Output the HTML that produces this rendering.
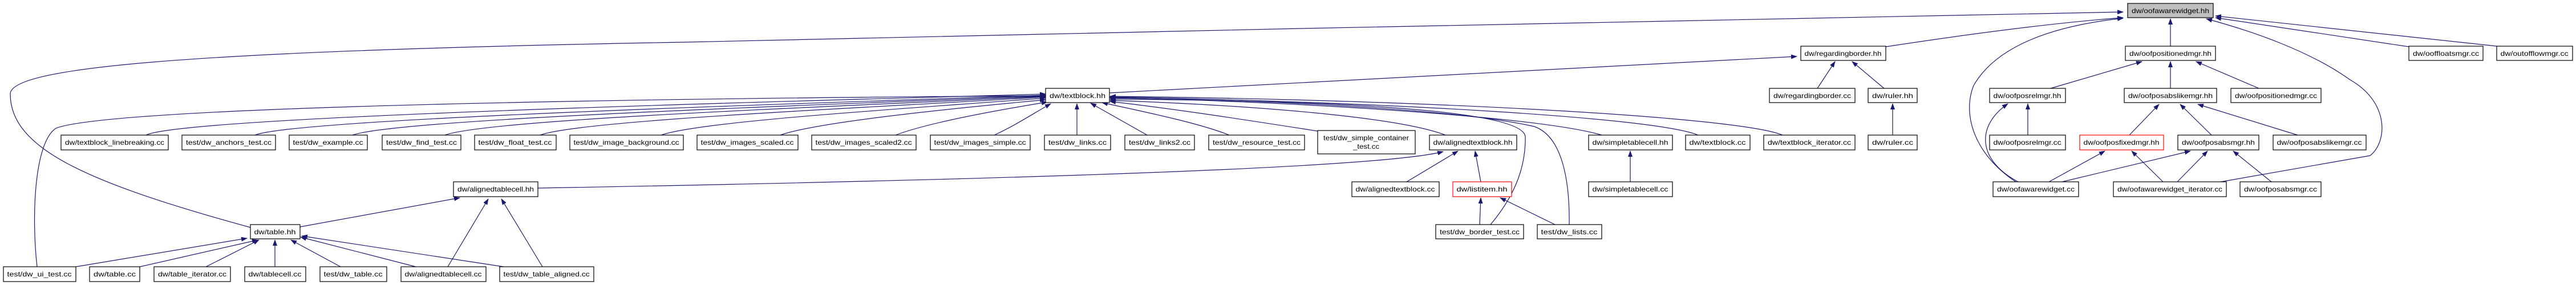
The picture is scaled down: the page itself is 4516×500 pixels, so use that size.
<!DOCTYPE html>
<html><head><meta charset="utf-8"><style>
html,body{margin:0;padding:0;background:#fff;}
svg{display:block;}
text{font-family:"Liberation Sans",sans-serif;font-size:12px;fill:#000;}
.n{fill:#fff;stroke:#000;stroke-width:1.2;}
.e{fill:none;stroke:#191970;stroke-width:1.2;}
</style></head><body>
<svg width="4516" height="500" viewBox="0 0 4516 500" xmlns="http://www.w3.org/2000/svg">
<defs><marker id="a" markerUnits="userSpaceOnUse" markerWidth="11" markerHeight="8" refX="10" refY="4" orient="auto"><path d="M0,0 L11,4 L0,8 z" fill="#191970"/></marker></defs>
<g class="e" marker-end="url(#a)">
<path d="M439 399 C150 320,18 260,18 165 C18 120,300 90,1200 74 C2000 55,3000 35,3722 21"/>
<path d="M3306 82 C3450 60,3600 40,3722 31"/>
<path d="M1945 163 L3150 99"/>
<path d="M943 330 C1500 320,2400 300,2530 266"/>
<path d="M256 237 C320 205,1300 180,1833 165"/>
<path d="M447 237 C520 208,1400 182,1833 167"/>
<path d="M618 237 C700 208,1450 184,1833 168"/>
<path d="M780 237 C860 208,1500 186,1833 169"/>
<path d="M947 237 C1020 210,1550 188,1833 170"/>
<path d="M1159 237 C1230 212,1600 190,1833 172"/>
<path d="M1368 237 C1430 215,1650 192,1833 175"/>
<path d="M1570 237 C1620 218,1720 198,1836 179"/>
<path d="M1743 237 C1780 220,1810 200,1842 182"/>
<path d="M1888 237 L1888 182"/>
<path d="M2011 237 L1912 181"/>
<path d="M2155 237 C2100 215,2000 195,1932 180"/>
<path d="M2310 230 C2150 205,2050 190,1946 178"/>
<path d="M2534 237 C2450 205,2200 185,1946 176"/>
<path d="M2808 237 C2700 205,2300 180,1946 171"/>
<path d="M2977 237 C2900 205,2400 178,1946 170"/>
<path d="M3125 237 C3050 205,2500 175,1946 169"/>
<path d="M2613 394 C2650 350,2675 300,2674 240 C2672 190,2300 176,1946 174"/>
<path d="M2751 394 C2752 320,2740 240,2690 222 C2550 190,2200 175,1946 172"/>
<path d="M65 468 C55 380,60 250,98 225 C200 185,1200 172,1833 168"/>
<path d="M526 398 L806 347"/>
<path d="M785 468 L856 349"/>
<path d="M951 468 L879 349"/>
<path d="M133 468 L433 418"/>
<path d="M245 468 L452 421"/>
<path d="M361 468 L454 421"/>
<path d="M482 468 L482 421"/>
<path d="M597 468 L510 421"/>
<path d="M729 468 L527 416"/>
<path d="M883 468 L529 414"/>
<path d="M2466 319 L2556 265"/>
<path d="M2596 319 L2586 265"/>
<path d="M2594 394 L2596 347"/>
<path d="M2726 394 L2630 347"/>
<path d="M2858 319 L2858 265"/>
<path d="M3186 155 L3217 108"/>
<path d="M3303 155 L3247 108"/>
<path d="M3318 237 L3318 182"/>
<path d="M3805 81 L3805 33"/>
<path d="M4223 82 L3884 31"/>
<path d="M4377 81 L3884 28"/>
<path d="M3534 319 C3460 270,3440 200,3460 150 C3500 80,3600 45,3722 32"/>
<path d="M3893 319 L4155 273 C4185 250,4190 180,4120 140 C4050 90,3950 55,3868 33"/>
<path d="M3595 155 L3755 108"/>
<path d="M3805 155 L3805 108"/>
<path d="M3960 155 L3850 108"/>
<path d="M3555 237 L3555 182"/>
<path d="M3538 319 C3465 280,3465 220,3520 182"/>
<path d="M3733 237 L3785 183"/>
<path d="M3877 237 L3822 183"/>
<path d="M4028 237 L3853 183"/>
<path d="M3592 319 L3690 265"/>
<path d="M3792 319 L3737 265"/>
<path d="M3615 319 L3840 265"/>
<path d="M3817 319 L3870 265"/>
<path d="M3982 319 L3915 265"/>
</g>
<g>
<rect class="n" x="3730" y="6" width="150" height="25" style="fill:#bfbfbf"/><text x="3805" y="23" text-anchor="middle" textLength="136" lengthAdjust="spacingAndGlyphs">dw/oofawarewidget.hh</text>
<rect class="n" x="3157" y="81" width="149" height="25"/><text x="3231" y="98" text-anchor="middle" textLength="135" lengthAdjust="spacingAndGlyphs">dw/regardingborder.hh</text>
<rect class="n" x="3726" y="81" width="158" height="25"/><text x="3805" y="98" text-anchor="middle" textLength="144" lengthAdjust="spacingAndGlyphs">dw/oofpositionedmgr.hh</text>
<rect class="n" x="4223" y="81" width="130" height="25"/><text x="4288" y="98" text-anchor="middle" textLength="116" lengthAdjust="spacingAndGlyphs">dw/ooffloatsmgr.cc</text>
<rect class="n" x="4377" y="81" width="133" height="25"/><text x="4443" y="98" text-anchor="middle" textLength="119" lengthAdjust="spacingAndGlyphs">dw/outofflowmgr.cc</text>
<rect class="n" x="1833" y="155" width="112" height="25"/><text x="1889" y="172" text-anchor="middle" textLength="98" lengthAdjust="spacingAndGlyphs">dw/textblock.hh</text>
<rect class="n" x="3102" y="155" width="150" height="25"/><text x="3177" y="172" text-anchor="middle" textLength="136" lengthAdjust="spacingAndGlyphs">dw/regardingborder.cc</text>
<rect class="n" x="3275" y="155" width="86" height="25"/><text x="3318" y="172" text-anchor="middle" textLength="72" lengthAdjust="spacingAndGlyphs">dw/ruler.hh</text>
<rect class="n" x="3488" y="155" width="133" height="25"/><text x="3554" y="172" text-anchor="middle" textLength="119" lengthAdjust="spacingAndGlyphs">dw/oofposrelmgr.hh</text>
<rect class="n" x="3724" y="155" width="162" height="25"/><text x="3805" y="172" text-anchor="middle" textLength="148" lengthAdjust="spacingAndGlyphs">dw/oofposabslikemgr.hh</text>
<rect class="n" x="3911" y="155" width="158" height="25"/><text x="3990" y="172" text-anchor="middle" textLength="144" lengthAdjust="spacingAndGlyphs">dw/oofpositionedmgr.cc</text>

<rect class="n" x="107" y="237" width="188" height="26"/><text x="201" y="254" text-anchor="middle" textLength="174" lengthAdjust="spacingAndGlyphs">dw/textblock_linebreaking.cc</text>
<rect class="n" x="319" y="237" width="164" height="26"/><text x="401" y="254" text-anchor="middle" textLength="150" lengthAdjust="spacingAndGlyphs">test/dw_anchors_test.cc</text>
<rect class="n" x="507" y="237" width="137" height="26"/><text x="575" y="254" text-anchor="middle" textLength="123" lengthAdjust="spacingAndGlyphs">test/dw_example.cc</text>
<rect class="n" x="670" y="237" width="138" height="26"/><text x="739" y="254" text-anchor="middle" textLength="124" lengthAdjust="spacingAndGlyphs">test/dw_find_test.cc</text>
<rect class="n" x="832" y="237" width="143" height="26"/><text x="903" y="254" text-anchor="middle" textLength="129" lengthAdjust="spacingAndGlyphs">test/dw_float_test.cc</text>
<rect class="n" x="999" y="237" width="199" height="26"/><text x="1098" y="254" text-anchor="middle" textLength="185" lengthAdjust="spacingAndGlyphs">test/dw_image_background.cc</text>
<rect class="n" x="1222" y="237" width="177" height="26"/><text x="1310" y="254" text-anchor="middle" textLength="163" lengthAdjust="spacingAndGlyphs">test/dw_images_scaled.cc</text>
<rect class="n" x="1423" y="237" width="183" height="26"/><text x="1514" y="254" text-anchor="middle" textLength="169" lengthAdjust="spacingAndGlyphs">test/dw_images_scaled2.cc</text>
<rect class="n" x="1631" y="237" width="175" height="26"/><text x="1718" y="254" text-anchor="middle" textLength="161" lengthAdjust="spacingAndGlyphs">test/dw_images_simple.cc</text>
<rect class="n" x="1831" y="237" width="116" height="26"/><text x="1889" y="254" text-anchor="middle" textLength="102" lengthAdjust="spacingAndGlyphs">test/dw_links.cc</text>
<rect class="n" x="1972" y="237" width="122" height="26"/><text x="2033" y="254" text-anchor="middle" textLength="108" lengthAdjust="spacingAndGlyphs">test/dw_links2.cc</text>
<rect class="n" x="2119" y="237" width="168" height="26"/><text x="2203" y="254" text-anchor="middle" textLength="154" lengthAdjust="spacingAndGlyphs">test/dw_resource_test.cc</text>
<rect class="n" x="2310" y="229" width="171" height="41"/><text x="2395" y="246" text-anchor="middle" textLength="150" lengthAdjust="spacingAndGlyphs">test/dw_simple_container</text><text x="2395" y="261" text-anchor="middle" textLength="46" lengthAdjust="spacingAndGlyphs">_test.cc</text>
<rect class="n" x="2506" y="237" width="153" height="26"/><text x="2582" y="254" text-anchor="middle" textLength="139" lengthAdjust="spacingAndGlyphs">dw/alignedtextblock.hh</text>
<rect class="n" x="2785" y="237" width="147" height="26"/><text x="2858" y="254" text-anchor="middle" textLength="133" lengthAdjust="spacingAndGlyphs">dw/simpletablecell.hh</text>
<rect class="n" x="2955" y="237" width="113" height="26"/><text x="3011" y="254" text-anchor="middle" textLength="99" lengthAdjust="spacingAndGlyphs">dw/textblock.cc</text>
<rect class="n" x="3092" y="237" width="160" height="26"/><text x="3172" y="254" text-anchor="middle" textLength="146" lengthAdjust="spacingAndGlyphs">dw/textblock_iterator.cc</text>
<rect class="n" x="3275" y="237" width="86" height="26"/><text x="3318" y="254" text-anchor="middle" textLength="72" lengthAdjust="spacingAndGlyphs">dw/ruler.cc</text>
<rect class="n" x="3488" y="237" width="133" height="26"/><text x="3554" y="254" text-anchor="middle" textLength="119" lengthAdjust="spacingAndGlyphs">dw/oofposrelmgr.cc</text>
<rect class="n" x="3646" y="237" width="147" height="26" style="stroke:#f00"/><text x="3719" y="254" text-anchor="middle" textLength="133" lengthAdjust="spacingAndGlyphs">dw/oofposfixedmgr.hh</text>
<rect class="n" x="3818" y="237" width="142" height="26"/><text x="3889" y="254" text-anchor="middle" textLength="128" lengthAdjust="spacingAndGlyphs">dw/oofposabsmgr.hh</text>
<rect class="n" x="3985" y="237" width="163" height="26"/><text x="4066" y="254" text-anchor="middle" textLength="149" lengthAdjust="spacingAndGlyphs">dw/oofposabslikemgr.cc</text>

<rect class="n" x="795" y="319" width="148" height="26"/><text x="869" y="336" text-anchor="middle" textLength="134" lengthAdjust="spacingAndGlyphs">dw/alignedtablecell.hh</text>
<rect class="n" x="2370" y="319" width="153" height="26"/><text x="2446" y="336" text-anchor="middle" textLength="139" lengthAdjust="spacingAndGlyphs">dw/alignedtextblock.cc</text>
<rect class="n" x="2547" y="319" width="103" height="26" style="stroke:#f00"/><text x="2598" y="336" text-anchor="middle" textLength="89" lengthAdjust="spacingAndGlyphs">dw/listitem.hh</text>
<rect class="n" x="2785" y="319" width="147" height="26"/><text x="2858" y="336" text-anchor="middle" textLength="133" lengthAdjust="spacingAndGlyphs">dw/simpletablecell.cc</text>
<rect class="n" x="3494" y="319" width="150" height="26"/><text x="3569" y="336" text-anchor="middle" textLength="136" lengthAdjust="spacingAndGlyphs">dw/oofawarewidget.cc</text>
<rect class="n" x="3705" y="319" width="198" height="26"/><text x="3804" y="336" text-anchor="middle" textLength="184" lengthAdjust="spacingAndGlyphs">dw/oofawarewidget_iterator.cc</text>
<rect class="n" x="3927" y="319" width="142" height="26"/><text x="3998" y="336" text-anchor="middle" textLength="128" lengthAdjust="spacingAndGlyphs">dw/oofposabsmgr.cc</text>

<rect class="n" x="439" y="394" width="87" height="25"/><text x="482" y="411" text-anchor="middle" textLength="73" lengthAdjust="spacingAndGlyphs">dw/table.hh</text>
<rect class="n" x="2517" y="394" width="154" height="25"/><text x="2594" y="411" text-anchor="middle" textLength="140" lengthAdjust="spacingAndGlyphs">test/dw_border_test.cc</text>
<rect class="n" x="2695" y="394" width="113" height="25"/><text x="2751" y="411" text-anchor="middle" textLength="99" lengthAdjust="spacingAndGlyphs">test/dw_lists.cc</text>

<rect class="n" x="6" y="468" width="127" height="26"/><text x="69" y="485" text-anchor="middle" textLength="113" lengthAdjust="spacingAndGlyphs">test/dw_ui_test.cc</text>
<rect class="n" x="157" y="468" width="88" height="26"/><text x="201" y="485" text-anchor="middle" textLength="74" lengthAdjust="spacingAndGlyphs">dw/table.cc</text>
<rect class="n" x="270" y="468" width="134" height="26"/><text x="337" y="485" text-anchor="middle" textLength="120" lengthAdjust="spacingAndGlyphs">dw/table_iterator.cc</text>
<rect class="n" x="429" y="468" width="107" height="26"/><text x="482" y="485" text-anchor="middle" textLength="93" lengthAdjust="spacingAndGlyphs">dw/tablecell.cc</text>
<rect class="n" x="561" y="468" width="117" height="26"/><text x="619" y="485" text-anchor="middle" textLength="103" lengthAdjust="spacingAndGlyphs">test/dw_table.cc</text>
<rect class="n" x="703" y="468" width="149" height="26"/><text x="777" y="485" text-anchor="middle" textLength="135" lengthAdjust="spacingAndGlyphs">dw/alignedtablecell.cc</text>
<rect class="n" x="876" y="468" width="165" height="26"/><text x="958" y="485" text-anchor="middle" textLength="151" lengthAdjust="spacingAndGlyphs">test/dw_table_aligned.cc</text>
</g>
</svg>
</body></html>
